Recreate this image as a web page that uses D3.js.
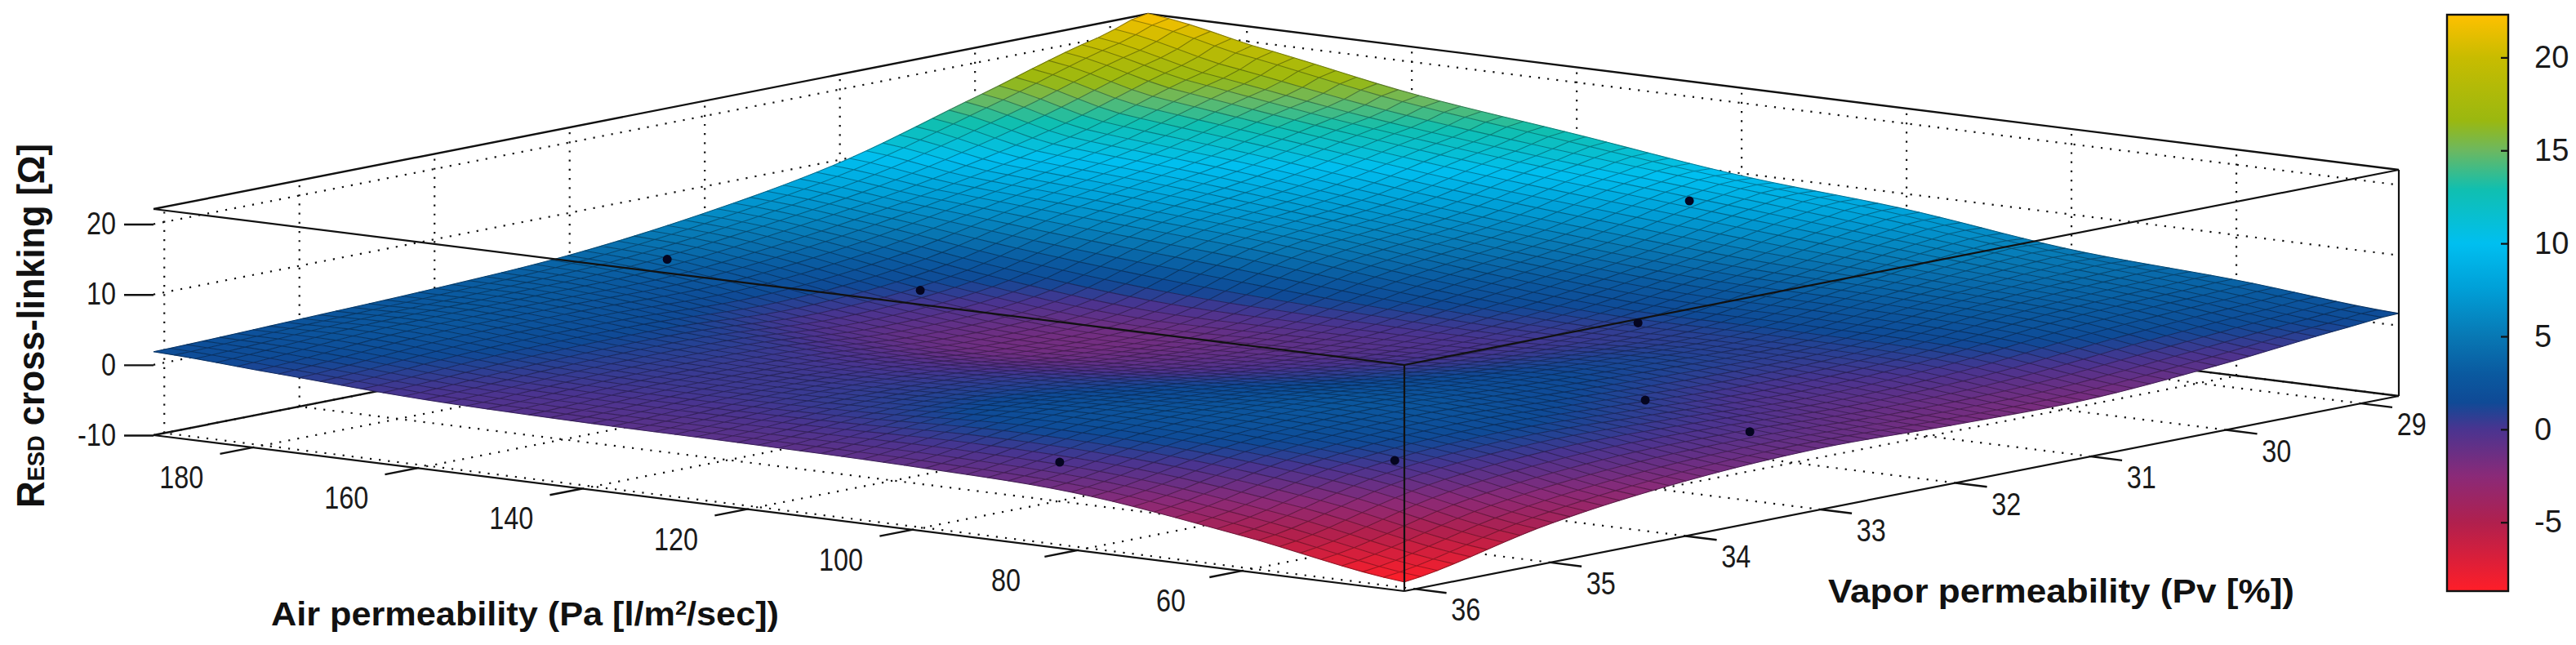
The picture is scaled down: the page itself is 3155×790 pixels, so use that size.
<!DOCTYPE html>
<html>
<head>
<meta charset="utf-8">
<script src="https://cdn.jsdelivr.net/npm/d3@7"></script>
<style>
    html, body { margin: 0; padding: 0; background: #fff; }
    text { font-family: "Liberation Sans", Arial, sans-serif; fill: #1a1a1a; }
    .tick-label { font-size: 38px; }
    .title { font-weight: bold; font-size: 41px; fill: #111; }
</style>
</head>
<body>
<svg id="chart" width="3155" height="790"></svg>
<script>
// axis ticks
var xTicks = [180, 160, 140, 120, 100, 80, 60]
var yTicks = [36, 35, 34, 33, 32, 31, 30, 29]
var zTicks = [-10, 0, 10, 20]
var barTicks = [-5, 0, 5, 10, 15, 20]

// surface heights, on a coarse grid (x = air, y = vapor)
var xKnots = [40.3, 60, 80, 100, 120, 140, 160, 180, 192]
var yKnots = [28.72, 29, 30, 31, 32, 33, 34, 35, 36.08]
var zAtY2872 = [1.74, 3.6, 5, 7.8, 9.65, 12.6, 15.5, 19.6, 22.2]
var zAtY29 = [1.3, 3.4, 5.2, 7.5, 9.5, 11.5, 14, 17.5, 20.5]
var zAtY30 = [-0.5, 2.5, 3.5, 4, 5.5, 7.5, 10, 12, 15.1]
var zAtY31 = [-1.8, 0.5, 1, 1, 2.6, 5, 6.5, 8, 9.6]
var zAtY32 = [-1.7, -0.3, 1.2, 0, -0.6, -0.7, 1.6, 5, 6.2]
var zAtY33 = [-1.28, 0.5, 1.8, 0.6, -0.8, -1.5, 0, 3, 4]
var zAtY34 = [-2.2, 1, 2.6, 1.7, 0.6, 0, 1, 2.8, 3]
var zAtY35 = [-4.5, -0.5, 1.5, 2, 0.8, 0.3, 0.8, 2.5, 2.4]
var zAtY3608 = [-8.7, -5, -1.9, -1, -0.7, -0.56, -0.1, 1.1, 1.86]
var zTable = [zAtY2872, zAtY29, zAtY30, zAtY31, zAtY32, zAtY33, zAtY34, zAtY35, zAtY3608]

// measured points (air, vapor, R)
var pointX = [180.5, 158, 88, 58.5, 118.8, 89.8, 62.7, 51]
var pointY = [32.98, 32.48, 35.72, 35.04, 29.18, 31.33, 32.93, 32.87]
var pointZ = [5, 2, 0, 2, 8, 3, 2, -1]

// colormap, picked from the colorbar
var mapValues = [-8.7, -5, -2.5, 0, 1.45, 3, 5, 7.6, 10, 12.9, 15, 16.6, 20, 22.3]
var mapColors = ["#ff1e28", "#b0204e", "#8a2a78", "#4a3490", "#0f4a96", "#0a5aa0", "#0878b4", "#00a0d8", "#00bff0", "#10bfb0", "#6cb860", "#9ab810", "#c8bc00", "#ffc000"]

var xMin = 40.3, xMax = 192, yMin = 28.72, yMax = 36.08, zMin = -10, zMax = 22.15
var meshCells = 60

var svg = d3.select('#chart')

// orthographic view: every data axis adds its own screen offset
var originX = 1720, originY = 724
var sxOfX = d3.scaleLinear().domain([xMin, xMax]).range([0, -1532])
var syOfX = d3.scaleLinear().domain([xMin, xMax]).range([0, -191])
var sxOfY = d3.scaleLinear().domain([yMax, yMin]).range([0, 1218])
var syOfY = d3.scaleLinear().domain([yMax, yMin]).range([0, -239])
var syOfZ = d3.scaleLinear().domain([zMin, zMax]).range([0, -277])

function project(x, y, z) {
    return [originX + sxOfX(x) + sxOfY(y), originY + syOfX(x) + syOfY(y) + syOfZ(z)]
}

var color = d3.scaleLinear().domain(mapValues).range(mapColors).clamp(true)

// smooth curve through the read grid, the mesh below is finer than the grid
var xIndex = d3.scaleLinear().domain(xKnots).range(d3.range(xKnots.length)).clamp(true)
var yIndex = d3.scaleLinear().domain(yKnots).range(d3.range(yKnots.length)).clamp(true)

function catmull(a, b, c, d, t) {
    return 0.5 * (2 * b + (c - a) * t + (2 * a - 5 * b + 4 * c - d) * t * t + (3 * b - a - 3 * c + d) * t * t * t)
}

function height(x, y) {
    var fx = xIndex(x), fy = yIndex(y)
    var ix = Math.min(Math.floor(fx), xKnots.length - 2), iy = Math.min(Math.floor(fy), yKnots.length - 2)
    var col = []
    for (var r = -1; r <= 2; r++) {
        var row = zTable[Math.max(0, Math.min(yKnots.length - 1, iy + r))]
        var get = function (k) { return row[Math.max(0, Math.min(xKnots.length - 1, ix + k))] }
        col.push(catmull(get(-1), get(0), get(1), get(2), fx - ix))
    }
    return catmull(col[0], col[1], col[2], col[3], fy - iy)
}

var line = d3.line()
function seg(a, b) { return line([a, b]) }

// squeeze the digits the way the figure has them
function labelWidth(t) {
    return String(t).replace('-', '').length * 18 + (t < 0 ? 11 : 0)
}

// dotted grid on the floor and the two back walls
var dotted = svg.append('g')
    .attr('fill', 'none').attr('stroke', '#111')
    .attr('stroke-width', 2.2).attr('stroke-dasharray', '2.2 9')
var gridSegments = []
xTicks.forEach(function (t) {
    gridSegments.push([project(t, yMax, zMin), project(t, yMin, zMin)])
    gridSegments.push([project(t, yMin, zMin), project(t, yMin, zMax)])
})
yTicks.forEach(function (t) {
    gridSegments.push([project(xMin, t, zMin), project(xMax, t, zMin)])
    gridSegments.push([project(xMax, t, zMin), project(xMax, t, zMax)])
})
zTicks.forEach(function (t) {
    gridSegments.push([project(xMax, yMax, t), project(xMax, yMin, t)])
    gridSegments.push([project(xMax, yMin, t), project(xMin, yMin, t)])
})
dotted.selectAll('path').data(gridSegments).join('path')
    .attr('d', function (d) { return seg(d[0], d[1]) })

// solid box lines behind the surface
var boxBack = [
    [project(xMax, yMax, zMax), project(xMax, yMin, zMax)],
    [project(xMax, yMin, zMax), project(xMin, yMin, zMax)],
    [project(xMax, yMax, zMin), project(xMax, yMin, zMin)],
    [project(xMax, yMin, zMin), project(xMin, yMin, zMin)]
]
svg.append('g').attr('stroke', '#111').attr('stroke-width', 2.4).attr('fill', 'none')
    .selectAll('path').data(boxBack).join('path')
    .attr('d', function (d) { return seg(d[0], d[1]) })

// surface, back corner first
var xStep = d3.scaleLinear().domain([0, meshCells]).range([xMax, xMin])
var yStep = d3.scaleLinear().domain([0, meshCells]).range([yMin, yMax])
var nodes = d3.range(meshCells + 1).map(function (j) {
    return d3.range(meshCells + 1).map(function (i) {
        var x = xStep(i), y = yStep(j), z = height(x, y)
        return { p: project(x, y, z), z: z }
    })
})
var cells = []
for (var j = 0; j < meshCells; j++) {
    for (var i = 0; i < meshCells; i++) {
        cells.push({
            pts: [nodes[j][i].p, nodes[j][i + 1].p, nodes[j + 1][i + 1].p, nodes[j + 1][i].p],
            z: (nodes[j][i].z + nodes[j][i + 1].z + nodes[j + 1][i + 1].z + nodes[j + 1][i].z) / 4
        })
    }
}
svg.append('g').selectAll('path').data(cells).join('path')
    .attr('d', function (d) { return line(d.pts) + 'Z' })
    .attr('fill', function (d) { return color(d.z) })
    .attr('stroke', function (d) { return color(d.z) })
    .attr('stroke-width', 1)

var meshPath = ''
nodes.forEach(function (row) { meshPath += line(row.map(function (n) { return n.p })) })
d3.range(meshCells + 1).forEach(function (i) {
    meshPath += line(nodes.map(function (row) { return row[i].p }))
})
svg.append('path').attr('d', meshPath).attr('fill', 'none')
    .attr('stroke', '#000').attr('stroke-opacity', 0.34).attr('stroke-width', 1.1)

// box lines in front of the surface
var boxFront = [
    [project(xMax, yMax, zMax), project(xMin, yMax, zMax)],
    [project(xMin, yMax, zMax), project(xMin, yMin, zMax)],
    [project(xMin, yMax, zMin), project(xMin, yMax, zMax)],
    [project(xMin, yMin, zMin), project(xMin, yMin, zMax)],
    [project(xMax, yMax, zMin), project(xMin, yMax, zMin)],
    [project(xMin, yMax, zMin), project(xMin, yMin, zMin)]
]
svg.append('g').attr('stroke', '#111').attr('stroke-width', 2.2).attr('fill', 'none')
    .selectAll('path').data(boxFront).join('path')
    .attr('d', function (d) { return seg(d[0], d[1]) })

// measured points
svg.append('g').selectAll('circle').data(pointX).join('circle')
    .attr('cx', function (d, i) { return project(pointX[i], pointY[i], pointZ[i])[0] })
    .attr('cy', function (d, i) { return project(pointX[i], pointY[i], pointZ[i])[1] })
    .attr('r', 5.5).attr('fill', '#050520')

// x axis ticks and labels
var xTickGroup = svg.append('g')
xTickGroup.selectAll('path').data(xTicks).join('path')
    .attr('stroke', '#111').attr('stroke-width', 2.4)
    .attr('d', function (t) { return seg(project(t, yMax, zMin), project(t, yMax + 0.24, zMin)) })
xTickGroup.selectAll('text').data(xTicks).join('text')
    .attr('class', 'tick-label').attr('text-anchor', 'middle')
    .attr('textLength', labelWidth).attr('lengthAdjust', 'spacingAndGlyphs')
    .attr('x', function (t) { return project(t, yMax, zMin)[0] - 87 })
    .attr('y', function (t) { return project(t, yMax, zMin)[1] + 50 })
    .text(function (t) { return t })

// y axis ticks and labels
var yTickGroup = svg.append('g')
yTickGroup.selectAll('path').data(yTicks).join('path')
    .attr('stroke', '#111').attr('stroke-width', 2.4)
    .attr('d', function (t) { return seg(project(xMin, t, zMin), project(xMin - 3.8, t, zMin)) })
yTickGroup.selectAll('text').data(yTicks).join('text')
    .attr('class', 'tick-label').attr('text-anchor', 'middle')
    .attr('textLength', labelWidth).attr('lengthAdjust', 'spacingAndGlyphs')
    .attr('x', function (t) { return project(xMin, t, zMin)[0] + 62 })
    .attr('y', function (t) { return project(xMin, t, zMin)[1] + 39 })
    .text(function (t) { return t })

// z axis
var zPixel = d3.scaleLinear().domain([zMin, zMax]).range([originY + syOfX(xMax), originY + syOfX(xMax) + syOfZ(zMax)])
var zAxis = svg.append('g').attr('transform', 'translate(' + project(xMax, yMax, 0)[0] + ',0)')
    .call(d3.axisLeft(zPixel).tickValues(zTicks).tickSize(36).tickPadding(10).tickFormat(function (d) { return d }))
zAxis.select('.domain').remove()
zAxis.selectAll('line').attr('stroke', '#111').attr('stroke-width', 2.4)
zAxis.selectAll('text').attr('class', 'tick-label')
    .attr('textLength', labelWidth).attr('lengthAdjust', 'spacingAndGlyphs')

// colorbar
var barX = 2997, barW = 75, barTop = 18, barBottom = 724
var barScale = d3.scaleLinear().domain([-8.7, 22.3]).range([barBottom, barTop])
var grad = svg.append('defs').append('linearGradient').attr('id', 'barFill')
    .attr('x1', 0).attr('x2', 0).attr('y1', 1).attr('y2', 0)
grad.selectAll('stop').data(mapValues).join('stop')
    .attr('offset', function (d) { return (d + 8.7) / 31 })
    .attr('stop-color', function (d, i) { return mapColors[i] })
svg.append('rect').attr('x', barX).attr('y', barTop).attr('width', barW).attr('height', barBottom - barTop)
    .attr('fill', 'url(#barFill)').attr('stroke', '#111').attr('stroke-width', 2.4)
var barAxis = svg.append('g').attr('transform', 'translate(' + (barX + barW) + ',0)')
    .call(d3.axisRight(barScale).tickValues(barTicks).tickSize(-9).tickPadding(32).tickFormat(function (d) { return d }))
barAxis.select('.domain').remove()
barAxis.selectAll('line').attr('stroke', '#111').attr('stroke-width', 2.2)
barAxis.selectAll('text').style('font-size', '38px').style('font-family', '"Liberation Sans", sans-serif').attr('fill', '#1a1a1a')

// axis titles
var titleX = svg.append('text').attr('class', 'title').attr('x', 332).attr('y', 766)
    .attr('textLength', 622).attr('lengthAdjust', 'spacingAndGlyphs')
titleX.append('tspan').text('Air permeability (Pa [l/m')
titleX.append('tspan').attr('dy', -13).style('font-size', '24px').text('2')
titleX.append('tspan').attr('dy', 13).text('/sec])')

svg.append('text').attr('class', 'title').attr('x', 2239).attr('y', 738)
    .attr('textLength', 571).attr('lengthAdjust', 'spacingAndGlyphs')
    .text('Vapor permeability (Pv [%])')

var titleZ = svg.append('text').attr('class', 'title')
    .attr('transform', 'translate(54,622) rotate(-90)')
    .attr('textLength', 446).attr('lengthAdjust', 'spacingAndGlyphs')
titleZ.append('tspan').style('font-size', '48px').text('R')
titleZ.append('tspan').style('font-size', '29px').text('ESD')
titleZ.append('tspan').style('font-size', '46px').text(' cross-linking [Ω]')
</script>
</body>
</html>
